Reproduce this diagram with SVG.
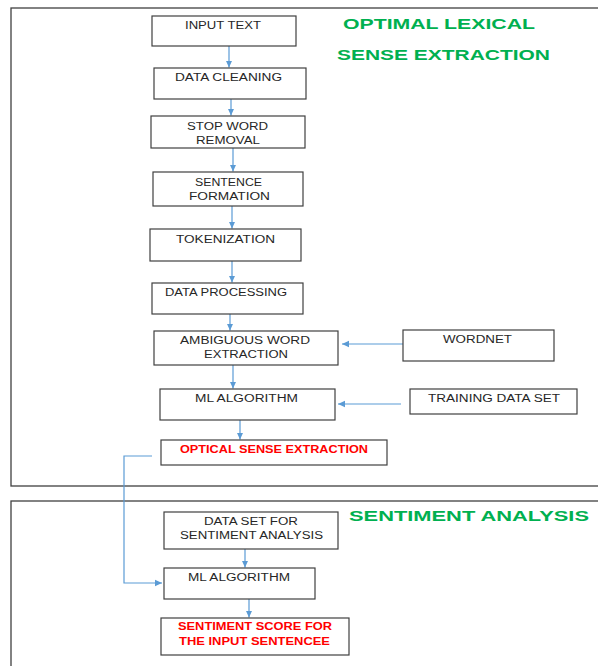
<svg xmlns="http://www.w3.org/2000/svg" width="598" height="666" viewBox="0 0 598 666">
<style>
.frame{fill:none;stroke:#404040;stroke-width:1.3}
.box{fill:#fff;stroke:#404040;stroke-width:1.2}
.t{font-family:"Liberation Sans",Arial,sans-serif;font-size:10px;fill:#262626;text-anchor:middle}
.r{font-family:"Liberation Sans",Arial,sans-serif;font-size:10px;font-weight:bold;fill:#ff0000;text-anchor:middle}
.g{font-family:"Liberation Sans",Arial,sans-serif;font-size:15.5px;font-weight:bold;fill:#00b050;text-anchor:middle}
.c{fill:none;stroke:#5b9bd5;stroke-width:1.2}
</style>
<defs>
<marker id="ah" markerUnits="userSpaceOnUse" markerWidth="8" markerHeight="8" viewBox="0 0 8 8" refX="7" refY="4" orient="auto">
<path d="M0,0.8 L7,4 L0,7.2 Z" fill="#5b9bd5"/>
</marker>
</defs>
<rect width="598" height="666" fill="#fff"/>
<g id="section-ole">
<rect class="frame" x="11" y="8" width="600" height="478"/>
<text class="g" x="439" y="28.7" textLength="192" lengthAdjust="spacingAndGlyphs">OPTIMAL LEXICAL</text>
<text class="g" x="443.5" y="60" textLength="213" lengthAdjust="spacingAndGlyphs">SENSE EXTRACTION</text>
</g>
<g id="section-sa">
<rect class="frame" x="11" y="501" width="600" height="180"/>
<text class="g" x="469" y="521" textLength="240" lengthAdjust="spacingAndGlyphs">SENTIMENT ANALYSIS</text>
</g>
<g id="connectors">
<line class="c" x1="229" y1="46" x2="229" y2="67.5" marker-end="url(#ah)"/>
<line class="c" x1="231" y1="99" x2="231" y2="115.5" marker-end="url(#ah)"/>
<line class="c" x1="233" y1="148" x2="233" y2="171.5" marker-end="url(#ah)"/>
<line class="c" x1="232" y1="206" x2="232" y2="228.5" marker-end="url(#ah)"/>
<line class="c" x1="232" y1="261" x2="232" y2="282.5" marker-end="url(#ah)"/>
<line class="c" x1="230" y1="314" x2="230" y2="330.5" marker-end="url(#ah)"/>
<line class="c" x1="233" y1="365" x2="233" y2="388.5" marker-end="url(#ah)"/>
<line class="c" x1="240" y1="420" x2="240" y2="439.5" marker-end="url(#ah)"/>
<line class="c" x1="406" y1="344" x2="342" y2="344" marker-end="url(#ah)"/>
<line class="c" x1="401" y1="404" x2="338" y2="404" marker-end="url(#ah)"/>
<polyline class="c" points="152,456 124,456 124,583 162,583" marker-end="url(#ah)"/>
<line class="c" x1="245" y1="549" x2="245" y2="567.5" marker-end="url(#ah)"/>
<line class="c" x1="249" y1="594" x2="249" y2="617.5" marker-end="url(#ah)"/>
</g>
<g id="input-text">
<rect class="box" x="152" y="16" width="144" height="30"/>
<text class="t" x="223" y="29.3" textLength="76" lengthAdjust="spacingAndGlyphs">INPUT TEXT</text>
</g>
<g id="data-cleaning">
<rect class="box" x="154" y="68" width="152" height="31"/>
<text class="t" x="228.5" y="81" textLength="107" lengthAdjust="spacingAndGlyphs">DATA CLEANING</text>
</g>
<g id="stop-word-removal">
<rect class="box" x="151" y="116" width="154" height="32"/>
<text class="t" x="227.5" y="129.5" textLength="81" lengthAdjust="spacingAndGlyphs">STOP WORD</text>
<text class="t" x="228" y="143.5" textLength="64" lengthAdjust="spacingAndGlyphs">REMOVAL</text>
</g>
<g id="sentence-formation">
<rect class="box" x="153" y="172" width="150" height="34"/>
<text class="t" x="228.5" y="186" textLength="67" lengthAdjust="spacingAndGlyphs">SENTENCE</text>
<text class="t" x="229.5" y="200" textLength="81" lengthAdjust="spacingAndGlyphs">FORMATION</text>
</g>
<g id="tokenization">
<rect class="box" x="150" y="229" width="151" height="32"/>
<text class="t" x="225.5" y="242.7" textLength="99" lengthAdjust="spacingAndGlyphs">TOKENIZATION</text>
</g>
<g id="data-processing">
<rect class="box" x="152" y="283" width="151" height="31"/>
<text class="t" x="226" y="296" textLength="122" lengthAdjust="spacingAndGlyphs">DATA PROCESSING</text>
</g>
<g id="ambiguous-word-extraction">
<rect class="box" x="154" y="331" width="184" height="34"/>
<text class="t" x="245" y="344" textLength="130" lengthAdjust="spacingAndGlyphs">AMBIGUOUS WORD</text>
<text class="t" x="246" y="358" textLength="84" lengthAdjust="spacingAndGlyphs">EXTRACTION</text>
</g>
<g id="ml-algorithm-1">
<rect class="box" x="160" y="389" width="175" height="31"/>
<text class="t" x="246.5" y="402" textLength="103" lengthAdjust="spacingAndGlyphs">ML ALGORITHM</text>
</g>
<g id="optical-sense-extraction">
<rect class="box" x="161" y="440" width="226" height="25"/>
<text class="r" x="274" y="452.7" textLength="188" lengthAdjust="spacingAndGlyphs">OPTICAL SENSE EXTRACTION</text>
</g>
<g id="wordnet">
<rect class="box" x="403" y="330" width="151" height="31"/>
<text class="t" x="477.5" y="342.7" textLength="69" lengthAdjust="spacingAndGlyphs">WORDNET</text>
</g>
<g id="training-data-set">
<rect class="box" x="410" y="389" width="167" height="25"/>
<text class="t" x="494" y="402" textLength="132" lengthAdjust="spacingAndGlyphs">TRAINING DATA SET</text>
</g>
<g id="data-set-for-sentiment-analysis">
<rect class="box" x="164" y="512" width="174" height="37"/>
<text class="t" x="251" y="525.3" textLength="94" lengthAdjust="spacingAndGlyphs">DATA SET FOR</text>
<text class="t" x="251.5" y="539.3" textLength="143" lengthAdjust="spacingAndGlyphs">SENTIMENT ANALYSIS</text>
</g>
<g id="ml-algorithm-2">
<rect class="box" x="164" y="568" width="151" height="31"/>
<text class="t" x="239" y="581.3" textLength="102" lengthAdjust="spacingAndGlyphs">ML ALGORITHM</text>
</g>
<g id="sentiment-score">
<rect class="box" x="161" y="618" width="188" height="37"/>
<text class="r" x="255" y="630" textLength="154" lengthAdjust="spacingAndGlyphs">SENTIMENT SCORE FOR</text>
<text class="r" x="254.5" y="645" textLength="151" lengthAdjust="spacingAndGlyphs">THE INPUT SENTENCEE</text>
</g>
</svg>
